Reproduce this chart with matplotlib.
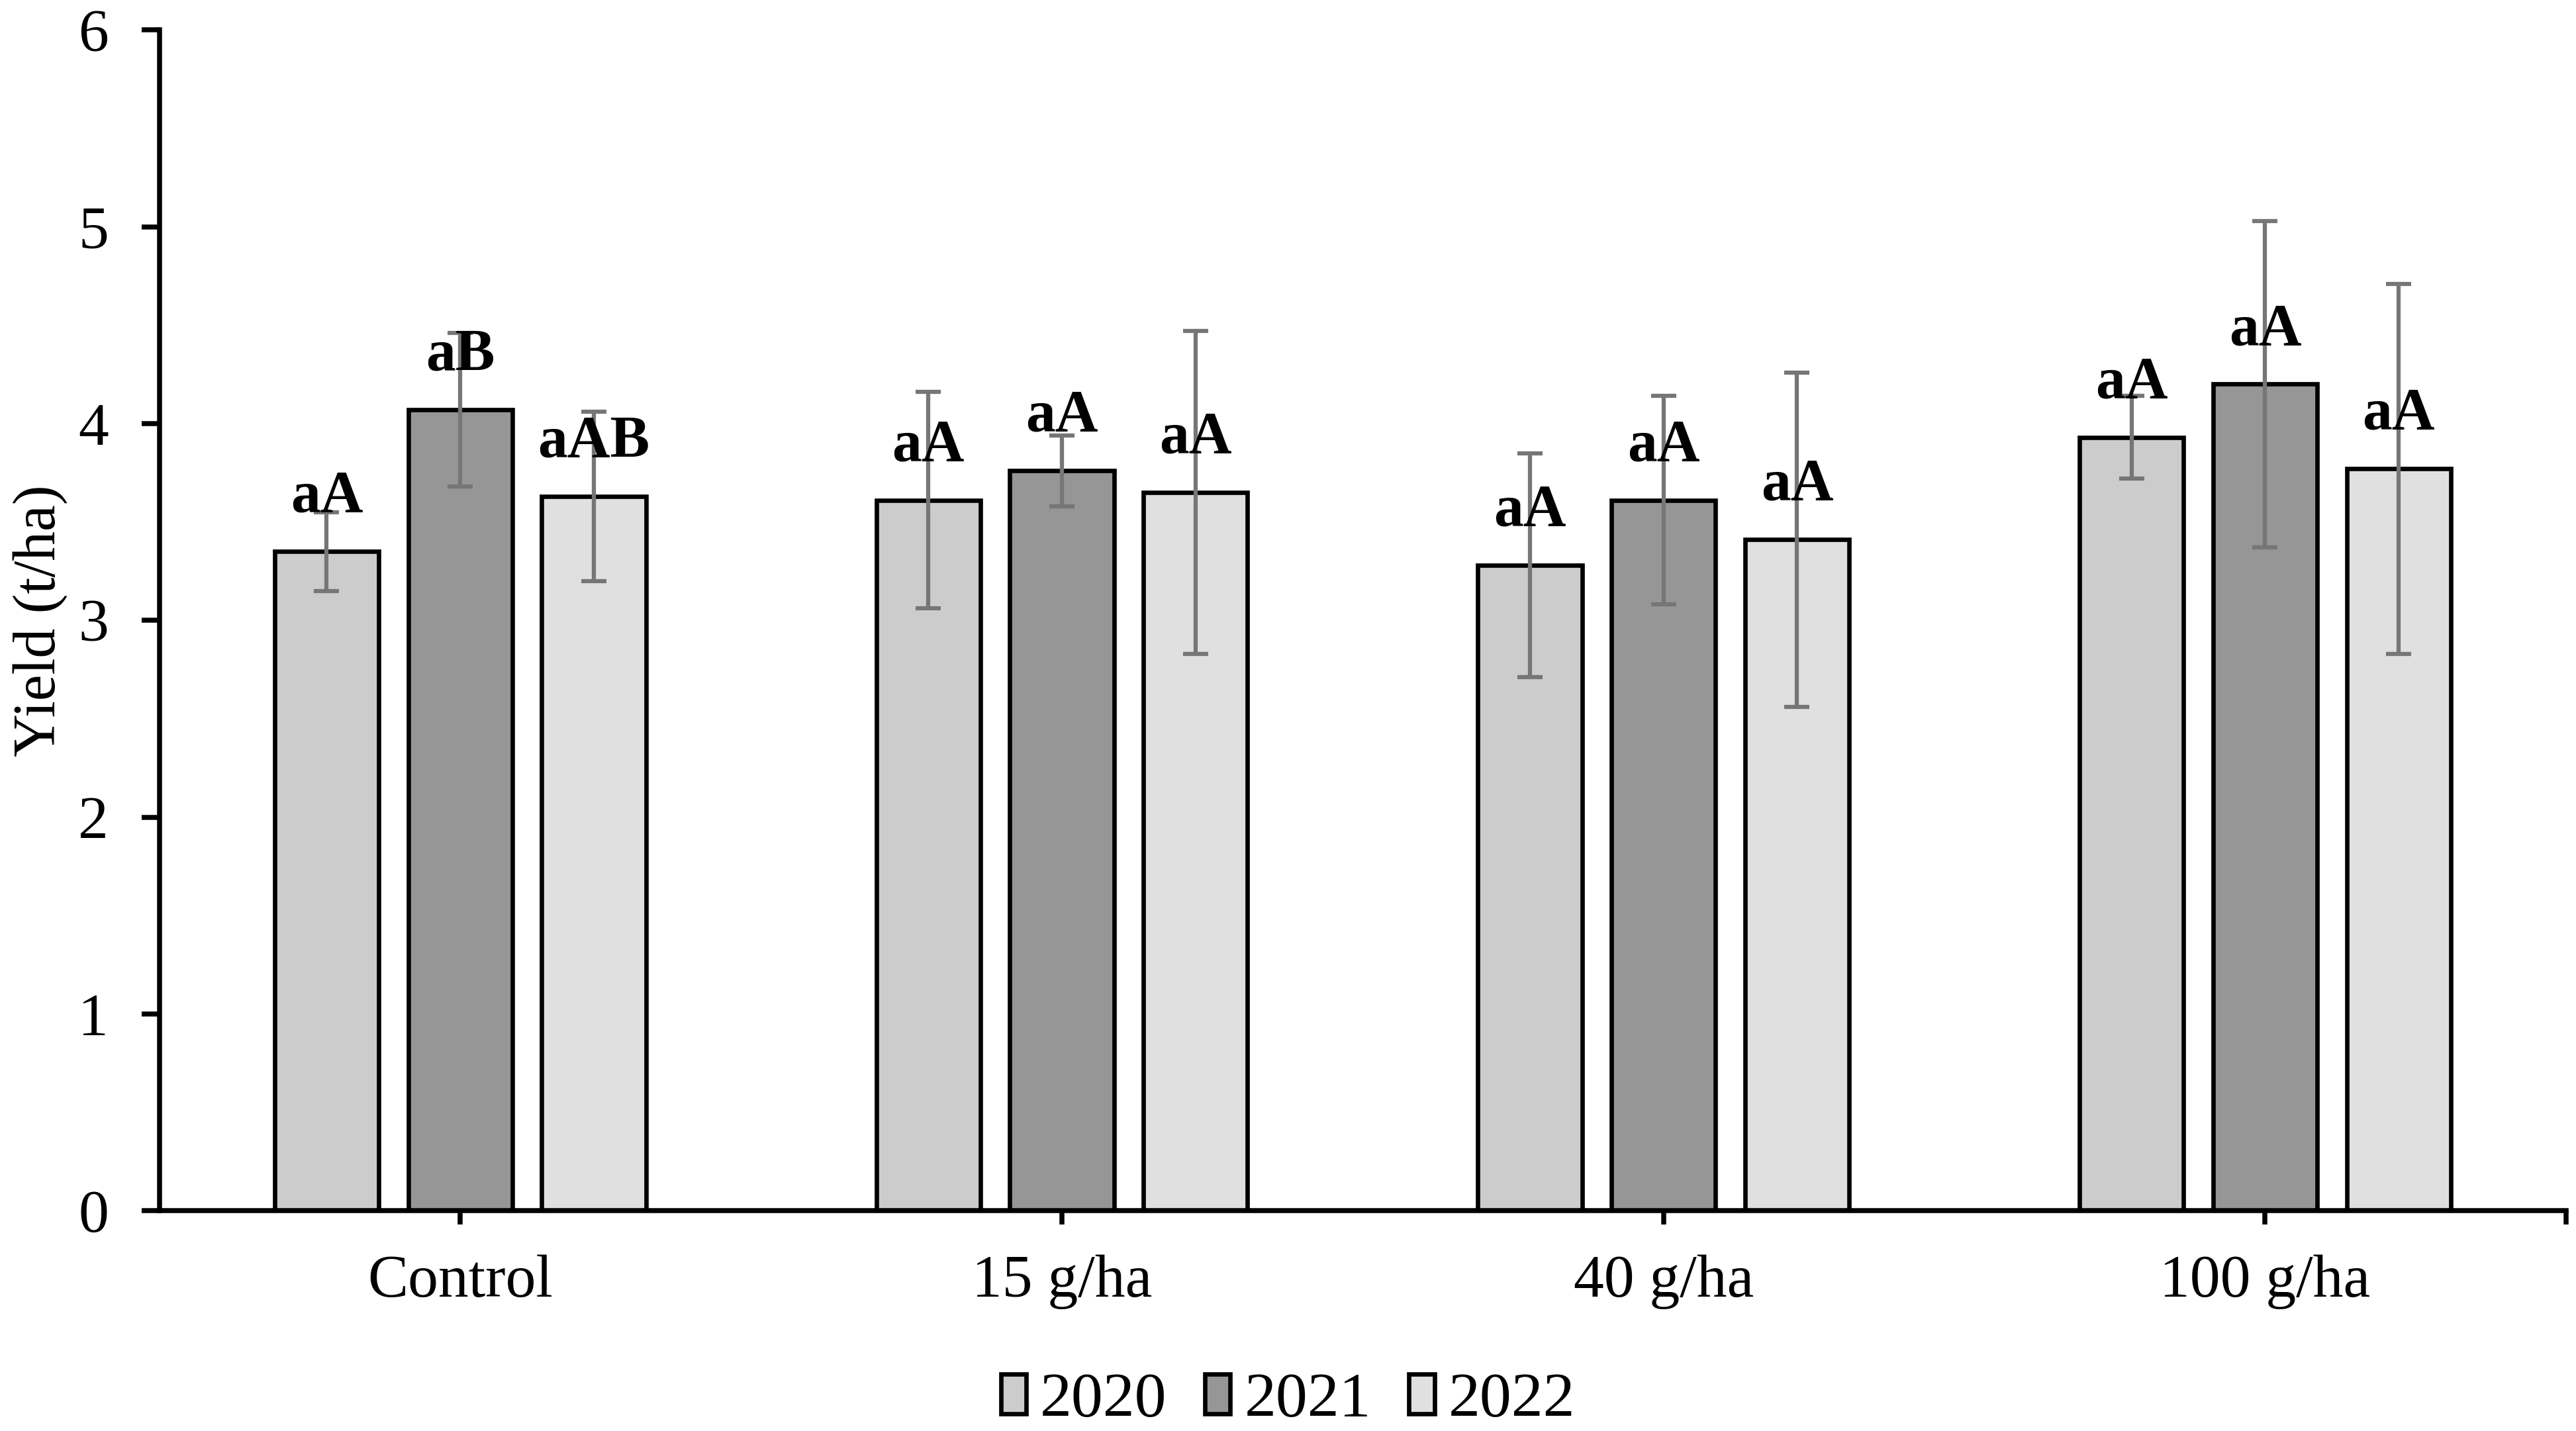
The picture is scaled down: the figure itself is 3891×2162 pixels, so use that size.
import numpy as np
import matplotlib
matplotlib.use("Agg")
import matplotlib.pyplot as plt

plt.rcParams['font.family'] = ['Liberation Serif', 'DejaVu Serif']

# treatments and years
treatments = ['Control', '15 g/ha', '40 g/ha', '100 g/ha']
years = ['2020', '2021', '2022']

# mean yield (t/ha) per year, one value per treatment
yield_2020 = [3.35, 3.61, 3.28, 3.93]
yield_2021 = [4.07, 3.76, 3.61, 4.20]
yield_2022 = [3.63, 3.65, 3.41, 3.77]

# error bar half-lengths
err_2020 = [0.20, 0.55, 0.57, 0.21]
err_2021 = [0.39, 0.18, 0.53, 0.83]
err_2022 = [0.43, 0.82, 0.85, 0.94]

# significance letters
letters_2020 = ['aA', 'aA', 'aA', 'aA']
letters_2021 = ['aB', 'aA', 'aA', 'aA']
letters_2022 = ['aAB', 'aA', 'aA', 'aA']

colors = ['#cccccc', '#969696', '#e0e0e0']

all_yield = [yield_2020, yield_2021, yield_2022]
all_err = [err_2020, err_2021, err_2022]
all_letters = [letters_2020, letters_2021, letters_2022]

fig = plt.figure(figsize=(3891 / 300, 2162 / 300), dpi=300)
ax = fig.add_axes([0.0619, 0.154, 0.9342, 0.825])

x = np.arange(len(treatments))
width = 0.173
offsets = [-0.222, 0.0, 0.222]

for i in range(3):
    ax.bar(x + offsets[i], all_yield[i], width, color=colors[i],
           edgecolor='black', linewidth=1.6, label=years[i], zorder=2)
    ax.errorbar(x + offsets[i], all_yield[i], yerr=all_err[i], fmt='none',
                ecolor='#767676', elinewidth=1.5, capsize=4.5, capthick=1.5,
                zorder=3)
    for xi, yi, lab in zip(x + offsets[i], all_yield[i], all_letters[i]):
        ax.text(xi, yi + 0.2, lab, ha='center', va='baseline',
                fontsize=21.5, fontweight='bold', zorder=4)

ax.set_xlim(-0.5, 3.5)
ax.set_ylim(0, 6)
ax.set_yticks(range(7))
ax.set_xticks(x)
ax.set_xticklabels(treatments)
ax.set_xticks([3.5], minor=True)
ax.set_ylabel('Yield (t/ha)', fontsize=21.5)

for s in ['top', 'right']:
    ax.spines[s].set_visible(False)
for s in ['left', 'bottom']:
    ax.spines[s].set_linewidth(1.8)

ax.tick_params(axis='y', which='major', direction='out', length=6.4, width=1.8,
               labelsize=22, pad=12)
ax.tick_params(axis='x', which='both', direction='out', length=5, width=1.8,
               labelsize=22, pad=11)

ax.legend(loc='center', bbox_to_anchor=(0.5, 0.021),
          bbox_transform=fig.transFigure, ncol=3, frameon=False, fontsize=23,
          handlelength=0.4, handleheight=0.6, handletextpad=0.22,
          columnspacing=0.6)

fig.savefig('out.png', dpi=300)
